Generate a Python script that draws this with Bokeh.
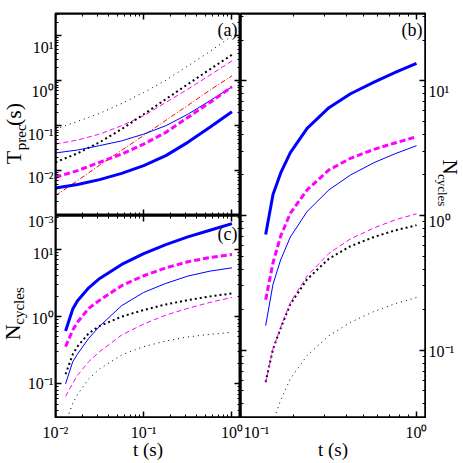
import math
from bokeh.plotting import figure
from bokeh.models import FixedTicker, CustomJSTickFormatter, LogAxis, Label, Range1d, LogScale
from bokeh.core.properties import value
from bokeh.layouts import row, column
from bokeh.embed import file_html
from bokeh.resources import INLINE

# ---------------- data ----------------
# panel (a): T_prec(s) vs t (s)
t_a = [0.01, 0.0178, 0.0316, 0.0562, 0.1, 0.178, 0.316, 0.562, 1.0]
a_blue_thick = [0.0041, 0.0049, 0.0063, 0.0087, 0.0129, 0.0216, 0.0426, 0.092, 0.205]
a_blue_thin = [0.0247, 0.0288, 0.036, 0.046, 0.065, 0.1, 0.18, 0.36, 0.735]
a_mag_thick = [0.0071, 0.01, 0.0153, 0.0234, 0.039, 0.071, 0.153, 0.33, 0.735]
a_mag_thin = [0.039, 0.048, 0.065, 0.1, 0.167, 0.33, 0.65, 1.34, 2.78]
a_blk_thick = [0.0153, 0.0243, 0.0427, 0.084, 0.18, 0.39, 0.84, 1.8, 3.8]
a_blk_thin = [0.084, 0.125, 0.188, 0.313, 0.55, 1.03, 2.15, 4.5, 10.0]
a_red = [0.00278, 0.006, 0.0132, 0.0283, 0.061, 0.132, 0.283, 0.62, 1.29]

# panel (c): N_cycles vs t (s)
t_c = [0.013, 0.0157, 0.0177, 0.0238, 0.0317, 0.0563, 0.1, 0.178, 0.316, 0.563, 1.0]
c_blue_thick = [0.61, 1.29, 1.70, 2.67, 3.67, 5.93, 8.6, 11.7, 15.2, 19.1, 24.0]
c_mag_thick = [0.357, 0.63, 0.82, 1.32, 1.75, 2.87, 4.03, 5.28, 6.49, 7.53, 8.34]
c_blue_thin = [0.10, 0.214, 0.275, 0.475, 0.72, 1.45, 2.28, 3.1, 3.98, 4.72, 5.28]
c_blk_thick = [0.139, 0.275, 0.357, 0.564, 0.723, 0.996, 1.25, 1.51, 1.75, 1.99, 2.2]
c_mag_thin = [0.065, 0.102, 0.133, 0.214, 0.301, 0.532, 0.774, 1.05, 1.32, 1.62, 1.92]
c_blk_thin = [0.0261, 0.0518, 0.0687, 0.1186, 0.1668, 0.269, 0.357, 0.433, 0.497, 0.544, 0.582]

# panel (b): N_cycles vs t (s)
t_b = [0.139, 0.153, 0.169, 0.192, 0.239, 0.318, 0.422, 0.574, 0.763, 1.0]
b_blue_thick = [0.723, 1.43, 2.06, 2.93, 4.43, 6.32, 8.02, 9.78, 11.6, 13.5]
b_mag_thick = [0.237, 0.446, 0.701, 1.04, 1.55, 2.18, 2.66, 3.1, 3.47, 3.84]
b_blue_thin = [0.152, 0.309, 0.467, 0.693, 1.07, 1.55, 2.0, 2.47, 2.89, 3.30]
b_mag_thin = [0.0574, 0.102, 0.148, 0.226, 0.356, 0.523, 0.671, 0.809, 0.931, 1.03]
b_blk_thick = [0.058, 0.102, 0.145, 0.22, 0.336, 0.478, 0.592, 0.693, 0.778, 0.846]
b_blk_thin = [0.0177, 0.0294, 0.0425, 0.0614, 0.0913, 0.128, 0.161, 0.194, 0.222, 0.246]

# axis ranges and tick exponents
xr_ac = (0.01, 1.25)
xr_b = (0.1, 1.125)
yr_a = (1e-3, 10 ** 1.5)
yr_bc = (10 ** -1.5, 10 ** 1.5)
xexp_ac = [-2, -1, 0]
xexp_b = [-1, 0]
yexp_a = [-3, -2, -1, 0, 1]
yexp_bc = [-1, 0, 1]

# ---------------- styles ----------------
BLUE = "#0000ff"
MAG = "#ff00ff"
RED = "#ff0000"
BLK = "#000000"
SERIF = "Liberation Serif"

ST = {
    "blue_thick": dict(line_color=BLUE, line_width=3),
    "blue_thin": dict(line_color=BLUE, line_width=1),
    "mag_thick": dict(line_color=MAG, line_width=3, line_dash="6 3"),
    "mag_thin": dict(line_color=MAG, line_width=1, line_dash="5 3"),
    "blk_thick": dict(line_color=BLK, line_width=2, line_dash="2 3"),
    "blk_thin": dict(line_color=BLK, line_width=1, line_dash="1 4"),
    "red": dict(line_color=RED, line_width=1, line_dash="5 2 1 2"),
}

SUP = {"-": "⁻", "0": "⁰", "1": "¹", "2": "²", "3": "³",
       "4": "⁴", "5": "⁵", "6": "⁶", "7": "⁷", "8": "⁸", "9": "⁹"}


def tick_text(e):
    return "10" + "".join(SUP[c] for c in str(e))


# ---------------- geometry (pixels of the page) ----------------
W, H = 463, 463
L0, XM, R0 = 55, 240, 425        # frame x edges
T0, YM, B0 = 13, 215, 417        # frame y edges
ROW_H = 418                      # height of the row holding the panels
FW = XM - L0                     # 185
FH = YM - T0                     # 202


def ticks_for(rng, exps):
    lo, hi = rng
    major = [10.0 ** k for k in exps]
    minor = []
    for k in range(int(math.floor(math.log10(lo))), int(math.ceil(math.log10(hi))) + 1):
        for mm in range(2, 10):
            v = mm * 10.0 ** k
            if lo < v < hi:
                minor.append(v)
    return major, minor


def style_axis(ax, rng, exps, fixed):
    major, minor = ticks_for(rng, exps)
    ax.ticker = FixedTicker(ticks=major, minor_ticks=minor)
    ax.formatter = CustomJSTickFormatter(code="return '';")
    ax.fixed_location = fixed
    ax.major_tick_in = 6
    ax.major_tick_out = 0
    ax.minor_tick_in = 3
    ax.minor_tick_out = 0
    ax.axis_line_width = 2
    ax.axis_line_color = "black"
    ax.major_tick_line_width = 1.5
    ax.major_tick_line_color = "black"
    ax.minor_tick_line_width = 1
    ax.minor_tick_line_color = "black"
    ax.major_label_text_font_size = "0px"
    ax.major_label_standoff = 0


def panel_fig(xr, yr, xexp, yexp, w, h, bl=0, br=0, bt=0, bb=0):
    p = figure(x_axis_type="log", y_axis_type="log",
               x_range=Range1d(*xr), y_range=Range1d(*yr),
               width=w, height=h, title=None,
               min_border=0, min_border_left=bl, min_border_right=br,
               min_border_top=bt, min_border_bottom=bb,
               output_backend="svg", toolbar_location=None,
               background_fill_color="white", border_fill_color="white")
    p.xgrid.visible = False
    p.ygrid.visible = False
    p.outline_line_color = "black"
    p.outline_line_width = 2
    p.add_layout(LogAxis(), "above")
    p.add_layout(LogAxis(), "right")
    style_axis(p.below[0], xr, xexp, yr[0])
    style_axis(p.above[0], xr, xexp, yr[1])
    style_axis(p.left[0], yr, yexp, xr[0])
    style_axis(p.right[0], yr, yexp, xr[1])
    return p


def strip_fig(w, h, **kw):
    p = figure(width=w, height=h, x_range=Range1d(0, w), y_range=Range1d(0, h),
               title=None, min_border=0, x_axis_location=None, y_axis_location=None,
               output_backend="svg", toolbar_location=None,
               background_fill_color="white", border_fill_color="white", **kw)
    p.outline_line_color = None
    p.grid.visible = False
    return p


def log_span(p0, p1, v0, v1, s0, s1):
    # log range seen over page pixels s0..s1 when page p0 -> 10**v0, p1 -> 10**v1
    k = (v1 - v0) / (p1 - p0)
    return (10 ** (v0 + (s0 - p0) * k), 10 ** (v0 + (s1 - p0) * k))


def panel_letter(p, text, x, y):
    p.add_layout(Label(x=x, y=y, x_units="screen", y_units="screen", text=text,
                       text_font=SERIF, text_font_size="18px", text_color="black",
                       text_align="right", text_baseline="top"))


def txt(p, xs, ys, texts, size, align="left", baseline="middle", angle=0.0, **kw):
    p.text(x=xs, y=ys, text=texts, text_font=value(SERIF), text_font_size=value(size),
           text_color="black", text_align=align, text_baseline=baseline, angle=angle, **kw)


# ---------------- panel (a) ----------------
pa = panel_fig(xr_ac, yr_a, xexp_ac, yexp_a, FW + 1, YM, bl=1, bt=T0)
for ys, key in [(a_blk_thin, "blk_thin"), (a_mag_thin, "mag_thin"), (a_blk_thick, "blk_thick"),
                (a_red, "red"), (a_blue_thin, "blue_thin"), (a_mag_thick, "mag_thick"),
                (a_blue_thick, "blue_thick")]:
    pa.line(t_a, ys, **ST[key])
panel_letter(pa, "(a)", FW - 3, FH - 6)

# ---------------- panel (c) ----------------
pc = panel_fig(xr_ac, yr_bc, xexp_ac, yexp_bc, FW + 1, ROW_H - YM, bl=1, bb=1)
for ys, key in [(c_blk_thin, "blk_thin"), (c_mag_thin, "mag_thin"), (c_blk_thick, "blk_thick"),
                (c_blue_thin, "blue_thin"), (c_mag_thick, "mag_thick"), (c_blue_thick, "blue_thick")]:
    pc.line(t_c, ys, **ST[key])
panel_letter(pc, "(c)", FW - 3, FH - 8)

# ---------------- panel (b) ----------------
pb = panel_fig(xr_b, yr_bc, xexp_b, yexp_bc, R0 - XM + 1, ROW_H, br=1, bt=T0, bb=1)
for ys, key in [(b_blk_thin, "blk_thin"), (b_blk_thick, "blk_thick"), (b_mag_thin, "mag_thin"),
                (b_blue_thin, "blue_thin"), (b_mag_thick, "mag_thick"), (b_blue_thick, "blue_thick")]:
    pb.line(t_b, ys, **ST[key])
panel_letter(pb, "(b)", FW - 3, 2 * FH - 6)

# ---------------- left strip: y tick labels and y titles of (a) and (c) ----------------
ls = strip_fig(L0 - 1, ROW_H,
               extra_y_ranges={
                   "a": Range1d(*log_span(T0, YM, math.log10(yr_a[1]), math.log10(yr_a[0]), ROW_H, 0)),
                   "c": Range1d(*log_span(YM, B0, math.log10(yr_bc[1]), math.log10(yr_bc[0]), ROW_H, 0)),
               },
               extra_y_scales={"a": LogScale(), "c": LogScale()})
txt(ls, [L0 - 2] * len(yexp_a), [10.0 ** e for e in yexp_a], [tick_text(e) for e in yexp_a],
    "16px", align="right", y_range_name="a")
txt(ls, [L0 - 2] * len(yexp_bc), [10.0 ** e for e in yexp_bc], [tick_text(e) for e in yexp_bc],
    "16px", align="right", y_range_name="c")
# T_prec(s)  (rotated, reading upwards)
txt(ls, [12.5], [ROW_H - 156], ["T"], "22px", angle=math.pi / 2)
txt(ls, [20.5], [ROW_H - 141.5], ["prec"], "15px", angle=math.pi / 2)
txt(ls, [12.5], [ROW_H - 116.5], ["(s)"], "22px", angle=math.pi / 2)
# N_cycles for (c)
txt(ls, [11.5], [ROW_H - 338], ["N"], "22px", angle=math.pi / 2)
txt(ls, [18.5], [ROW_H - 322], ["cycles"], "15px", angle=math.pi / 2)

# ---------------- right strip: y tick labels and y title of (b) ----------------
RS_X = R0 + 1
RS_W = W - RS_X
rs = strip_fig(RS_W, ROW_H,
               extra_y_ranges={
                   "b": Range1d(*log_span(T0, B0, math.log10(yr_bc[1]), math.log10(yr_bc[0]), ROW_H, 0)),
               },
               extra_y_scales={"b": LogScale()})
txt(rs, [2] * len(yexp_bc), [10.0 ** e for e in yexp_bc], [tick_text(e) for e in yexp_bc],
    "16px", align="left", y_range_name="b")
txt(rs, [449.5 - RS_X], [ROW_H - 151], ["N"], "21px", angle=-math.pi / 2)
txt(rs, [441.5 - RS_X], [ROW_H - 166], ["cycles"], "13px", angle=-math.pi / 2)

# ---------------- bottom strip: x tick labels and x titles ----------------
BS_H = H - ROW_H
bs = strip_fig(W, BS_H,
               extra_x_ranges={
                   "c": Range1d(*log_span(L0, XM, math.log10(xr_ac[0]), math.log10(xr_ac[1]), 0, W)),
                   "b": Range1d(*log_span(XM, R0, math.log10(xr_b[0]), math.log10(xr_b[1]), 0, W)),
               },
               extra_x_scales={"c": LogScale(), "b": LogScale()})
tick_top = BS_H - (423 - ROW_H)
txt(bs, [10.0 ** e for e in xexp_ac], [tick_top] * len(xexp_ac), [tick_text(e) for e in xexp_ac],
    "16px", align="center", baseline="top", x_range_name="c")
txt(bs, [10.0 ** xexp_b[0]], [tick_top], [tick_text(xexp_b[0])],
    "16px", align="left", baseline="top", x_range_name="b", x_offset=3)
txt(bs, [10.0 ** e for e in xexp_b[1:]], [tick_top] * len(xexp_b[1:]), [tick_text(e) for e in xexp_b[1:]],
    "16px", align="center", baseline="top", x_range_name="b")
txt(bs, [(L0 + XM) / 2, (XM + R0) / 2], [BS_H - (449 - ROW_H)] * 2, ["t (s)", "t (s)"],
    "19px", align="center")

layout = column(row(ls, column(pa, pc), pb, rs), bs)
open("out.html", "w").write(file_html(layout, INLINE))
